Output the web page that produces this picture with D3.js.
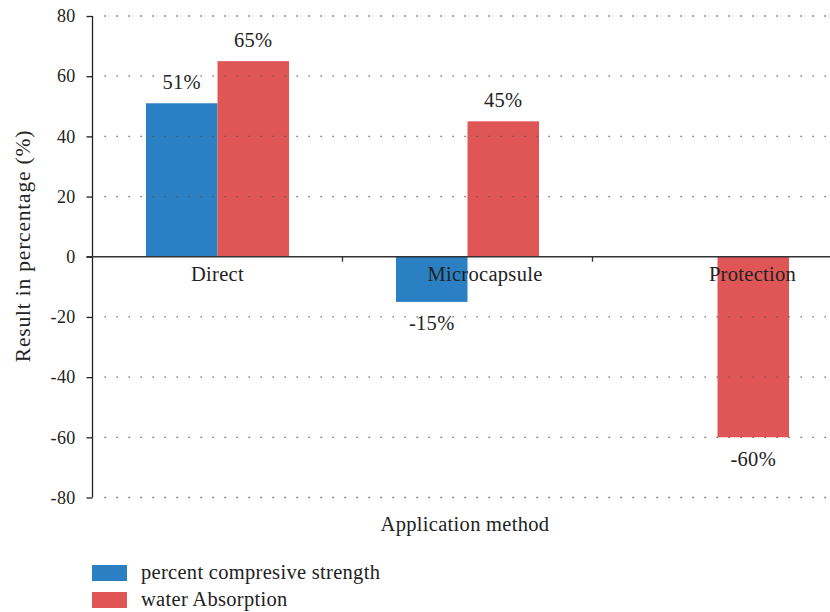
<!DOCTYPE html>
<html>
<head>
<meta charset="utf-8">
<script src="https://cdn.jsdelivr.net/npm/d3@7"></script>
<style>
    body { margin: 0; background: #fff; }
    svg text { font-family: "Liberation Serif", "Times New Roman", Times, "DejaVu Serif", serif !important; fill: #222; }
</style>
</head>
<body>
<div id="chart"></div>
<script>
const categories = ['Direct', 'Microcapsule', 'Protection'];
const seriesNames = ['percent compresive strength', 'water Absorption'];
const compressive = [51, -15, 0];
const absorption = [65, 45, -60];
const yTicks = [80, 60, 40, 20, 0, -20, -40, -60, -80];
const colors = ['#2a80c2', '#e05656'];

const width = 830, height = 612;
const margin = { top: 16, left: 92.5, bottom: 497.5 };

const svg = d3.select('#chart')
    .append('svg')
    .attr('width', width)
    .attr('height', height);

const x = d3.scaleBand()
    .domain(categories)
    .range([margin.left, 842.5]);

// category labels in the original are spaced a bit wider than the bars
const xLabel = d3.scaleBand()
    .domain(categories)
    .range([83.75, 886.25]);

const inner = d3.scaleBand()
    .domain(seriesNames)
    .range([0, x.bandwidth()])
    .paddingInner(0)
    .paddingOuter(0.748);

const y = d3.scaleLinear()
    .domain([-80, 80])
    .range([margin.bottom, margin.top]);

// Bars
const rows = categories.map((c, i) => ({ cat: c, values: [compressive[i], absorption[i]] }));

const groups = svg.selectAll('.group')
    .data(rows)
    .join('g')
    .attr('class', 'group')
    .attr('transform', d => `translate(${x(d.cat)},0)`);

groups.selectAll('rect')
    .data(d => d.values.map((v, j) => ({ v, s: seriesNames[j], j })))
    .join('rect')
    .attr('x', d => inner(d.s))
    .attr('width', inner.bandwidth())
    .attr('y', d => y(Math.max(0, d.v)))
    .attr('height', d => Math.abs(y(d.v) - y(0)))
    .attr('fill', d => colors[d.j]);

// Dotted gridlines (drawn over bars)
svg.append('g')
    .selectAll('line')
    .data(yTicks.filter(t => t !== 0))
    .join('line')
    .attr('x1', margin.left + 12)
    .attr('x2', 842)
    .attr('y1', d => y(d))
    .attr('y2', d => y(d))
    .attr('stroke', '#555')
    .attr('stroke-width', 1.3)
    .attr('stroke-dasharray', '1.3 10.7');

// Y axis
const yAxis = svg.append('g')
    .attr('transform', `translate(${margin.left},0)`)
    .call(d3.axisLeft(y).tickValues(yTicks).tickSize(6).tickPadding(11).tickFormat(d => String(d)));
yAxis.attr('font-family', null);
yAxis.select('.domain').attr('stroke', '#222').attr('stroke-width', 1.3).attr('d', `M0,${margin.top}V${margin.bottom}`);
yAxis.selectAll('.tick line').attr('stroke', '#222').attr('stroke-width', 1.3);
yAxis.selectAll('.tick text')
    .attr('font-size', 18)
    .attr('letter-spacing', 0.3)
    .attr('fill', '#222');

// Zero line with category labels
const xAxis = svg.append('g')
    .attr('transform', `translate(0,${y(0)})`)
    .call(d3.axisBottom(xLabel).tickSize(0).tickPadding(0));
xAxis.attr('font-family', null);
xAxis.select('.domain').attr('stroke', '#333').attr('stroke-width', 1.6).attr('d', `M${margin.left - 6},0H842`);
xAxis.selectAll('.tick text')
    .attr('y', 24.5)
    .attr('dy', null)
    .attr('font-size', 20.5)
    .attr('letter-spacing', 0.3)
    .attr('fill', '#222');

svg.append('g')
    .selectAll('line')
    .data(categories.slice(1))
    .join('line')
    .attr('x1', d => x(d))
    .attr('x2', d => x(d))
    .attr('y1', y(0))
    .attr('y2', y(0) + 5)
    .attr('stroke', '#333')
    .attr('stroke-width', 1.3);

// Value labels
groups.selectAll('.val')
    .data(d => d.values.map((v, j) => ({ v, s: seriesNames[j] })).filter(d => d.v !== 0))
    .join('text')
    .attr('class', 'val')
    .attr('x', d => inner(d.s) + inner.bandwidth() / 2)
    .attr('y', d => d.v > 0 ? y(d.v) - 14 : y(d.v) + 28.5)
    .attr('text-anchor', 'middle')
    .attr('font-size', 20.5)
    .attr('letter-spacing', 0.3)
    .text(d => d.v + '%');

// Axis titles
svg.append('text')
    .attr('transform', `translate(30,${(125 + 367) / 2}) rotate(-90)`)
    .attr('text-anchor', 'middle')
    .attr('font-size', 21.5)
    .attr('letter-spacing', 0.8)
    .text('Result in percentage (%)');

svg.append('text')
    .attr('x', 465)
    .attr('y', 531)
    .attr('text-anchor', 'middle')
    .attr('font-size', 20.5)
    .attr('letter-spacing', 0.3)
    .text('Application method');

// Legend
const legend = svg.append('g')
    .selectAll('g')
    .data(seriesNames)
    .join('g')
    .attr('transform', (d, i) => `translate(92,${565 + i * 27})`);

legend.append('rect')
    .attr('width', 35)
    .attr('height', 16)
    .attr('fill', (d, i) => colors[i]);

legend.append('text')
    .attr('x', 49)
    .attr('y', 13.5)
    .attr('font-size', 20.5)
    .attr('letter-spacing', 0.3)
    .text(d => d);
</script>
</body>
</html>
